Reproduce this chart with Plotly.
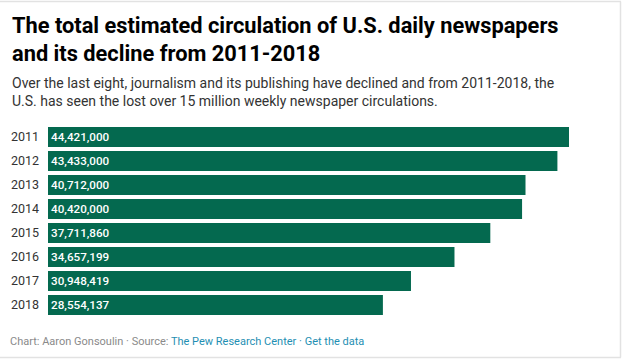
import plotly.graph_objects as go

years = ["2011", "2012", "2013", "2014", "2015", "2016", "2017", "2018"]
circulation = [44421000, 43433000, 40712000, 40420000, 37711860, 34657199, 30948419, 28554137]

title_text = "The total estimated circulation of U.S. daily newspapers<br>and its decline from 2011-2018"
subtitle_text = ("Over the last eight, journalism and its publishing have declined and from 2011-2018, the<br>"
                 "U.S. has seen the lost over 15 million weekly newspaper circulations.")

W, H = 624, 359
ML, MR, MT, MB = 48, 55, 125, 42
PW, PH = W - ML - MR, H - MT - MB

def px(x):
    return (x - ML) / PW

def py(y):
    return (H - MB - y) / PH

BAR = "#04694f"
FONT = "Roboto, Arial, sans-serif"

fig = go.Figure(go.Bar(
    x=circulation, y=years, orientation="h",
    marker=dict(color=BAR, line=dict(width=0)),
    texttemplate="%{x:,}", textposition="inside", insidetextanchor="start",
    textfont=dict(color="white", size=12.5, family=FONT, weight=500),
    hoverinfo="skip", cliponaxis=False,
))

fig.update_layout(
    width=W, height=H,
    margin=dict(l=ML, r=MR, t=MT, b=MB),
    paper_bgcolor="white", plot_bgcolor="white",
    bargap=0.167,
    showlegend=False,
    font=dict(family=FONT, color="#333"),
    xaxis=dict(range=[0, max(circulation)], visible=False, fixedrange=True),
    yaxis=dict(type="category", autorange="reversed", showgrid=False, zeroline=False,
               showline=False, ticks="", ticklabelstandoff=8, fixedrange=True,
               tickfont=dict(size=12.5, color="#333", family=FONT)),
)

fig.add_annotation(text=title_text, xref="paper", yref="paper",
                   x=px(10), y=py(10.5), xanchor="left", yanchor="top", align="left",
                   showarrow=False,
                   font=dict(size=21.8, family=FONT, color="#000", weight="bold"))

fig.add_annotation(text=subtitle_text, xref="paper", yref="paper",
                   x=px(10), y=py(72.5), xanchor="left", yanchor="top", align="left",
                   showarrow=False, font=dict(size=14, color="#333", family=FONT))

footer = ('<span style="color:#8a8a8a">Chart: Aaron Gonsoulin · Source: </span>'
          '<span style="color:#1f8fb3">The Pew Research Center · Get the data</span>')
fig.add_annotation(text=footer, xref="paper", yref="paper",
                   x=px(8), y=py(341), xanchor="left", yanchor="middle",
                   showarrow=False, font=dict(size=11, family=FONT))

border = "#e2e2e2"
fig.add_shape(type="line", xref="paper", yref="paper", x0=px(0), x1=px(621), y0=py(1.5), y1=py(1.5),
              line=dict(color=border, width=1.5))
fig.add_shape(type="line", xref="paper", yref="paper", x0=px(620.5), x1=px(620.5), y0=py(1.5), y1=py(357.5),
              line=dict(color=border, width=1.5))
fig.add_shape(type="line", xref="paper", yref="paper", x0=px(0), x1=px(621), y0=py(357.5), y1=py(357.5),
              line=dict(color=border, width=1.5))

fig.write_html("out.html", config={"displayModeBar": False},
               post_script="document.body.style.margin='0';document.body.style.overflow='hidden';")
